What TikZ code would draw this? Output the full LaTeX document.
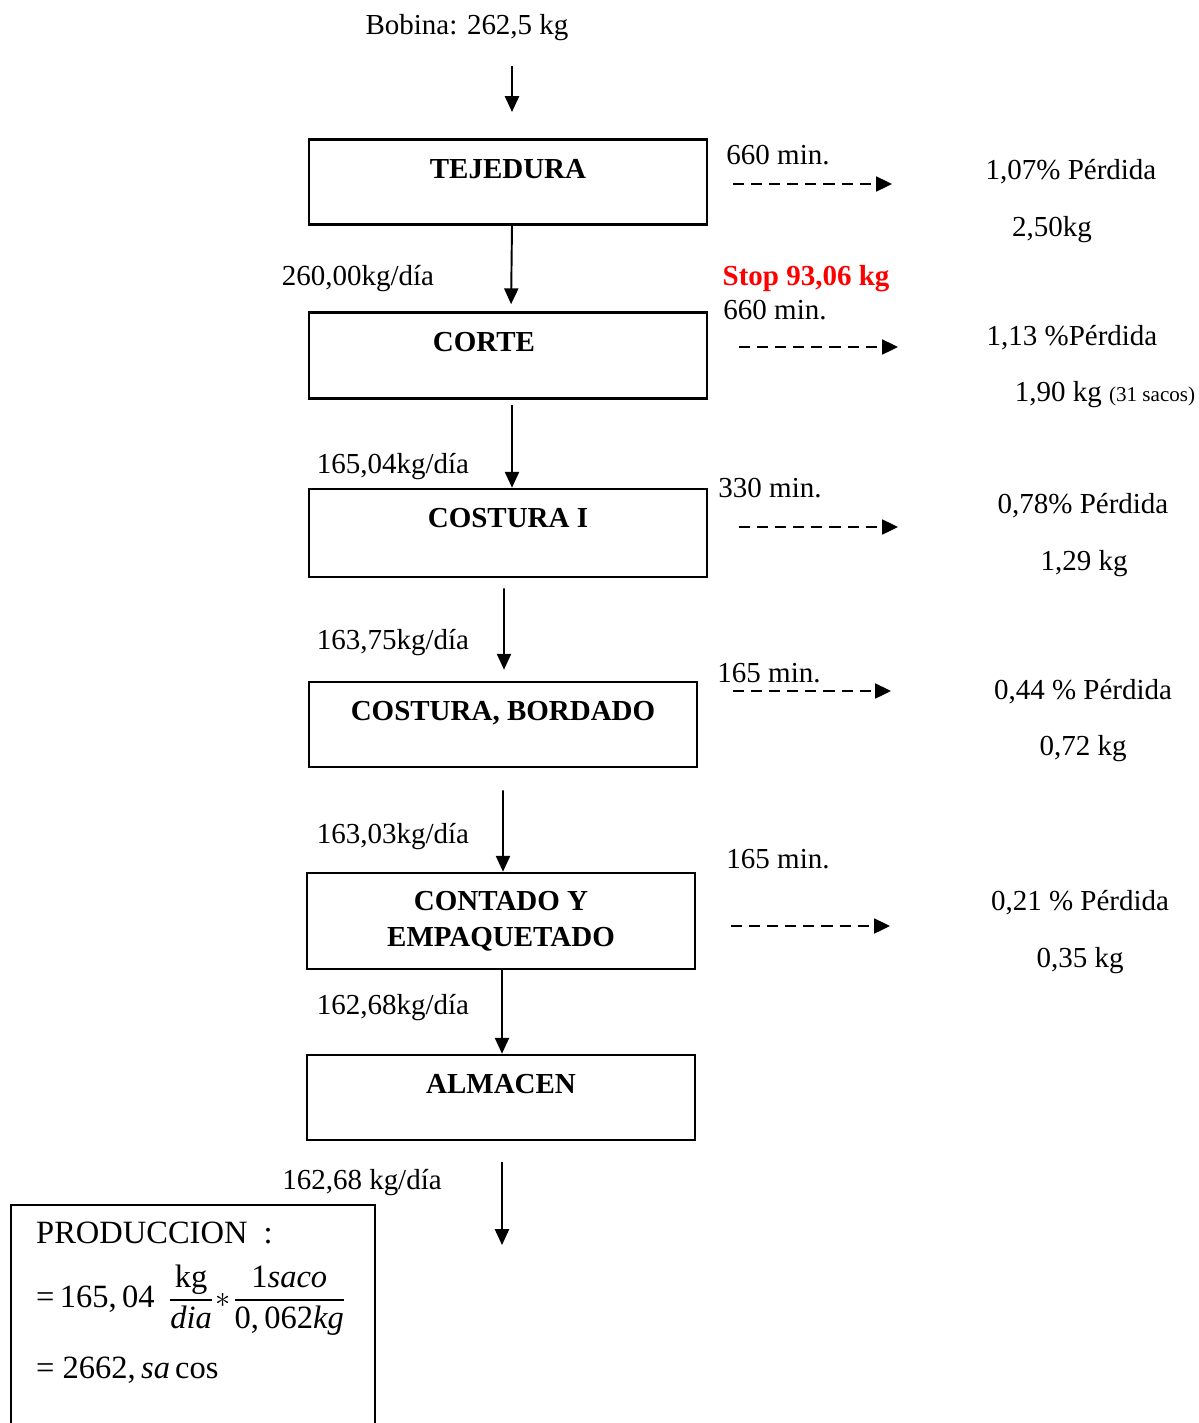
\documentclass[tikz,border=0pt]{standalone}
\usepackage{amsmath}
\usepackage{fontspec}
\setmainfont{Liberation Serif}
\usetikzlibrary{arrows.meta}

\begin{document}
\begin{tikzpicture}[
  x=0.02cm, y=-0.02cm,
  every node/.style={font=\fontsize{16.5}{20}\selectfont, align=center},
  proc/.style={draw, line width=1.5pt, inner sep=0pt, minimum width=7.96cm,
    text height=0.77cm, text depth=0.92cm, font=\fontsize{16.5}{20.5}\selectfont\bfseries},
  flow/.style={-{Triangle[length=9pt,width=8pt]}, line width=1.1pt},
  loss/.style={-{Triangle[length=9pt,width=8.5pt]}, line width=1.1pt, dash pattern=on 6.3pt off 4pt},
  formula/.style={anchor=west, align=left, font=\fontsize{18.5}{22}\selectfont}
]
\useasboundingbox (0,0) rectangle (1198,1423);

% Process boxes, top to bottom
\node[proc] (tej) at (508,182) {TEJEDURA};
\node[proc, text depth=0.95cm] (corte) at (508,355.5) {CORTE\hspace*{0.96cm}};
\node[proc, text depth=0.99cm] (cost1) at (508,533) {COSTURA I};
\node[proc, minimum width=7.76cm, text depth=0.93cm] (bord) at (503,724.5) {COSTURA, BORDADO};
\node[proc, minimum width=7.76cm, text height=, text depth=, minimum height=1.92cm] (cont) at (501,921) {CONTADO Y\\EMPAQUETADO};
\node[proc, minimum width=7.76cm, text depth=0.93cm] (alm) at (501,1097.5) {ALMACEN};

% Main flow
\node (bobina) at (467,28) {Bobina: 262,5 kg};
\coordinate (in1) at (512,66);
\coordinate (in2) at (512,112);
\coordinate (out) at (502,1245);

\draw[flow] (in1) -- (in2);
\draw[flow, shorten >=0.14cm] ([xshift=0.08cm]tej.south) -- ([xshift=0.06cm]corte.north);
\draw[flow, shorten <=0.1cm] ([xshift=0.08cm]corte.south) -- ([xshift=0.08cm]cost1.north);
\draw[flow, shorten <=0.2cm, shorten >=0.22cm] ([xshift=-0.08cm]cost1.south) -- ([xshift=0.02cm]bord.north);
\draw[flow, shorten <=0.44cm] (bord.south) -- ([xshift=0.04cm]cont.north);
\draw[flow] ([xshift=0.02cm]cont.south) -- ([xshift=0.02cm]alm.north);
\draw[flow, shorten <=0.42cm] ([xshift=0.02cm]alm.south) -- (out);

% Quantities between the steps
\node (q1) at (358,279) {260,00kg/día};
\node (q2) at (393,467) {165,04kg/día};
\node (q3) at (393,643) {163,75kg/día};
\node (q4) at (393,837) {163,03kg/día};
\node (q5) at (393,1008) {162,68kg/día};
\node (q6) at (362,1183) {162,68 kg/día};

% Losses on the right
\coordinate (d1a) at (733,184); \coordinate (d1b) at (892,184);
\coordinate (d2a) at (739,347); \coordinate (d2b) at (898,347);
\coordinate (d3a) at (739,527); \coordinate (d3b) at (898,527);
\coordinate (d4a) at (733,691); \coordinate (d4b) at (891,691);
\coordinate (d5a) at (731,926); \coordinate (d5b) at (890,926);

\node (t1) at (778,155) {660 min.};
\draw[loss] (d1a) -- (d1b);
\node (p1) at (1071,172) {1,07\% Pérdida};
\node (k1) at (1052,230) {2,50kg};

\node[text=red, font=\fontsize{16.5}{20}\selectfont\bfseries] (stop) at (806,279) {Stop 93,06 kg};

\node (t2) at (775,310) {660 min.};
\draw[loss] (d2a) -- (d2b);
\node (p2) at (1072,338) {1,13 \%Pérdida};
\node (k2) at (1105,395) {1,90 kg {\fontsize{12}{14}\selectfont (31 sacos)}};

\node (t3) at (770,488) {330 min.};
\draw[loss] (d3a) -- (d3b);
\node (p3) at (1083,506) {0,78\% Pérdida};
\node (k3) at (1084,564) {1,29 kg};

\node (t4) at (769,673) {165 min.};
\draw[loss] (d4a) -- (d4b);
\node (p4) at (1083,692) {0,44 \% Pérdida};
\node (k4) at (1083,749) {0,72 kg};

\node (t5) at (778,859) {165 min.};
\draw[loss] (d5a) -- (d5b);
\node (p5) at (1080,903) {0,21 \% Pérdida};
\node (k5) at (1080,961) {0,35 kg};

% Production box, open at the page edge
\node[draw, line width=1.5pt, minimum width=7.28cm, minimum height=5cm, inner sep=0pt] (prodbox) at (193,1330) {};
\node[formula] (prodtitle) at (30,1233) {PRODUCCION\ \ :};
\node[formula] (prodcalc) at (30,1300) {$\text{=\,165,\,04}\;\,\dfrac{\text{kg}}{\textit{dia}}\!\ast\!\dfrac{\text{1}\textit{saco}}{\text{0,\,062}\textit{kg}}$};
\node[formula] (prodres) at (30,1370) {$\text{= 2662,\,}\textit{sa}\,\text{cos}$};
\end{tikzpicture}
\end{document}
